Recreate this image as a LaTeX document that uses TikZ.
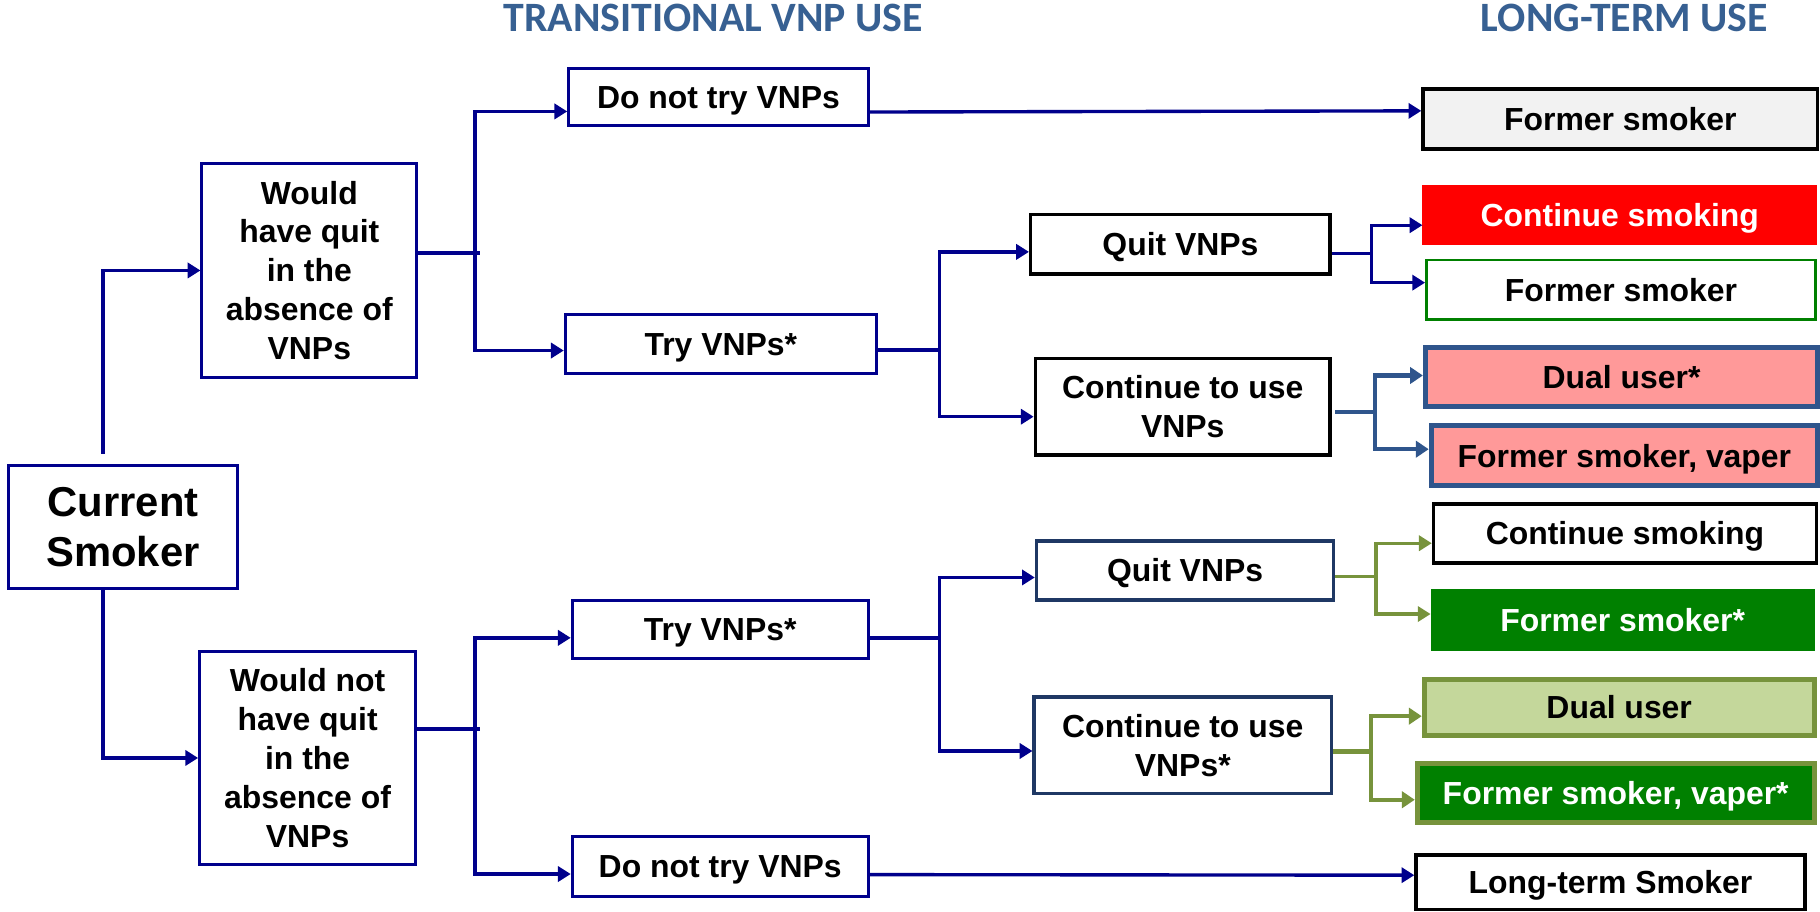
\documentclass[tikz,border=0pt]{standalone}
\usepackage{fontspec}
\setmainfont{Liberation Sans}
\newfontfamily\headfont{Carlito}
\usetikzlibrary{arrows.meta,calc}

\definecolor{navyline}{RGB}{0,0,140}
\definecolor{steelline}{RGB}{47,85,140}
\definecolor{darknavy}{RGB}{31,56,100}
\definecolor{olive}{RGB}{119,147,60}
\definecolor{lightolive}{RGB}{196,215,155}
\definecolor{pinkfill}{RGB}{255,153,153}
\definecolor{leafgreen}{RGB}{0,128,0}
\definecolor{palegray}{RGB}{242,242,242}
\definecolor{headblue}{RGB}{55,96,146}

\begin{document}
\begin{tikzpicture}[x=1pt,y=-1pt,
  box/.style={draw=navyline, line width=2.6pt, fill=white, inner sep=0pt,
    align=center, font=\fontsize{27.5}{33.5}\selectfont\bfseries},
  oneline/.style={text height=22.5pt, text depth=2.8pt},
  blackbox/.style={box, draw=black, line width=3pt},
  navybox/.style={box, draw=darknavy, line width=3pt},
  head/.style={inner sep=0pt, text=headblue, font=\headfont\fontsize{36}{40}\selectfont\bfseries},
  conn/.style={draw=navyline, line width=2.9pt},
  arr/.style={conn, -{Triangle[length=11pt,width=13pt]}},
  steelconn/.style={draw=steelline, line width=3.6pt},
  steelarr/.style={steelconn, -{Triangle[length=11pt,width=14pt]}},
  oliveconn/.style={draw=olive, line width=2.7pt},
  olivearr/.style={oliveconn, -{Triangle[length=11pt,width=13pt]}},
  olivethick/.style={draw=olive, line width=3.6pt},
  olivethickarr/.style={olivethick, -{Triangle[length=11pt,width=14pt]}}
]
\useasboundingbox (0,0) rectangle (1568,785);
\fill[white] (0,0) rectangle (1568,785);

% column headings
\node[head] (h1) at (614.5,15.4) {TRANSITIONAL VNP USE};
\node[head] (h2) at (1399.5,15.4) {LONG-TERM USE};

% starting state and counterfactual branches
\node[box, minimum width=198pt, minimum height=106pt,
  font=\fontsize{36}{43}\selectfont\bfseries] (cs) at (106,454) {Current\\Smoker};
\node[box, minimum width=185pt, minimum height=184pt] (wq) at (266.5,233)
  {Would\\have quit\\in the\\absence of\\VNPs};
\node[box, minimum width=186pt, minimum height=184pt] (wnq) at (265,653)
  {Would not\\have quit\\in the\\absence of\\VNPs};

% transitional use
\node[box, oneline, minimum width=258pt, minimum height=49pt] (dnt1) at (619,83.5) {Do not try VNPs};
\node[box, oneline, minimum width=268pt, minimum height=51pt] (try1) at (621,296.5) {Try VNPs*};
\node[box, oneline, minimum width=255pt, minimum height=50pt] (try2) at (620.5,542) {Try VNPs*};
\node[box, oneline, minimum width=255pt, minimum height=51pt] (dnt2) at (620.5,746.5) {Do not try VNPs};

\node[blackbox, oneline, minimum width=258pt, minimum height=51pt] (q1) at (1017,210.5) {Quit VNPs};
\node[blackbox, minimum width=254pt, minimum height=83pt] (c1) at (1019,350.5) {Continue to use\\VNPs};
\node[navybox, oneline, minimum width=256pt, minimum height=51pt] (q2) at (1021,491.5) {Quit VNPs};
\node[navybox, minimum width=256pt, minimum height=83pt] (c2) at (1019,642) {Continue to use\\VNPs*};

% long-term outcomes
\node[blackbox, oneline, fill=palegray, minimum width=340pt, minimum height=52pt] (fs1) at (1396,102.5) {Former smoker};
\node[box, oneline, draw=red, fill=red, text=white, line width=1pt, minimum width=339pt, minimum height=51pt] (cs1) at (1395.5,185.5) {Continue smoking};
\node[box, oneline, draw=leafgreen, line width=2.5pt, minimum width=335pt, minimum height=51pt] (fs2) at (1396.5,249.5) {Former smoker};
\node[box, oneline, draw=steelline, fill=pinkfill, line width=4.3pt, minimum width=338pt, minimum height=51pt] (du1) at (1397,324.5) {Dual user*};
\node[box, oneline, draw=steelline, fill=pinkfill, line width=4.3pt, minimum width=333pt, minimum height=51pt] (fsv1) at (1399.5,392.5) {Former smoker, vaper};
\node[blackbox, oneline, minimum width=330pt, minimum height=51pt] (cs2) at (1400,459.5) {Continue smoking};
\node[box, oneline, draw=leafgreen, fill=leafgreen, text=white, line width=1pt, minimum width=330pt, minimum height=52pt] (fs3) at (1398,534) {Former smoker*};
\node[box, oneline, draw=olive, fill=lightolive, line width=4.3pt, minimum width=336pt, minimum height=49pt] (du2) at (1395,609.5) {Dual user};
\node[box, oneline, draw=olive, fill=leafgreen, text=white, line width=4.3pt, minimum width=342pt, minimum height=51pt] (fsv2) at (1392,683.5) {Former smoker, vaper*};
\node[blackbox, oneline, minimum width=335pt, minimum height=47pt] (lts) at (1387.5,760) {Long-term Smoker};

% current smoker splits
\draw[arr] ($(cs.north west)+(83,-9)$) |- (wq.west);
\draw[arr] ($(cs.south west)+(83,0)$) |- (wnq.west);

% would have quit
\draw[conn] ($(wq.east)+(0,-15)$) -- ++(53,0);
\coordinate (j1) at ($(wq.east)+(49,-15)$);
\draw[arr] (j1) |- ($(dnt1.west)+(0,12.5)$);
\draw[arr] (j1) |- ($(try1.west)+(0,5.5)$);

% would not have quit
\draw[conn] ($(wnq.east)+(0,-25)$) -- ++(54,0);
\coordinate (j2) at ($(wnq.east)+(50,-25)$);
\draw[arr] (j2) |- ($(try2.west)+(0,7.5)$);
\draw[arr] (j2) |- ($(dnt2.west)+(0,6.5)$);

% straight runs to long-term outcomes
\draw[arr] ($(dnt1.east)+(0,13)$) -- ($(fs1.west)+(0,-7)$);
\draw[arr] ($(dnt2.east)+(0,7)$) -- ($(lts.west)+(0,-6)$);

% upper try branch
\coordinate (j3) at ($(try1.east)+(53,5)$);
\draw[conn] ($(try1.east)+(0,5)$) -- (j3);
\draw[arr] (j3) |- ($(q1.west)+(0,6.5)$);
\draw[arr] (j3) |- ($(c1.west)+(0,8.5)$);

\coordinate (j4) at ($(q1.east)+(34,8)$);
\draw[conn] ($(q1.east)+(0,8)$) -- (j4);
\draw[arr] (j4) |- ($(cs1.west)+(0,8.5)$);
\draw[arr] (j4) |- ($(fs2.west)+(0,-6)$);

\coordinate (j5) at ($(c1.east)+(37,4.5)$);
\draw[steelconn] ($(c1.east)+(3,4.5)$) -- (j5);
\draw[steelarr] (j5) |- ($(du1.west)+(0,-1)$);
\draw[steelarr] (j5) |- ($(fsv1.west)+(0,-5.5)$);

% lower try branch
\coordinate (j6) at ($(try2.east)+(60,7.5)$);
\draw[conn] ($(try2.east)+(0,7.5)$) -- (j6);
\draw[arr] (j6) |- ($(q2.west)+(0,6)$);
\draw[arr] (j6) |- ($(c2.west)+(0,5)$);

\coordinate (j7) at ($(q2.east)+(35,5.5)$);
\draw[oliveconn] ($(q2.east)+(0,5.5)$) -- (j7);
\draw[olivearr] (j7) |- ($(cs2.west)+(0,8.5)$);
\draw[olivearr] (j7) |- ($(fs3.west)+(0,-5)$);

\coordinate (j8) at ($(c2.east)+(33,5.5)$);
\draw[olivethick] ($(c2.east)+(0,5.5)$) -- (j8);
\draw[olivethickarr] (j8) |- ($(du2.west)+(0,7.5)$);
\draw[olivethickarr] (j8) |- ($(fsv2.west)+(0,5.5)$);
\end{tikzpicture}
\end{document}
